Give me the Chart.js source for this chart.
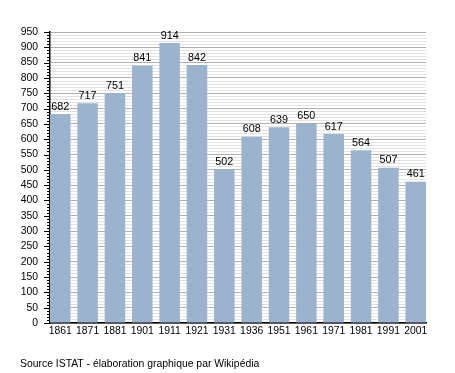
<!DOCTYPE html>
<html>
<head>
<meta charset="utf-8">
<script src="https://cdn.jsdelivr.net/npm/chart.js@4/dist/chart.umd.min.js"></script>
<style>
  html, body { margin: 0; padding: 0; background: #fff; }
  #wrap { position: relative; width: 455px; height: 373px; }
</style>
</head>
<body>
<div id="wrap"><canvas id="chart" width="455" height="373"></canvas></div>
<script>
// ── Data ─────────────────────────────────────────────────────────────── //
var years  = ['1861', '1871', '1881', '1901', '1911', '1921', '1931', '1936', '1951', '1961', '1971', '1981', '1991', '2001'];
var values = [682, 717, 751, 841, 914, 842, 502, 608, 639, 650, 617, 564, 507, 461];
var yMax = 950;
var sourceText = 'Source ISTAT - élaboration graphique par Wikipédia';

var FONT = '"Liberation Sans", Arial, sans-serif';
var BAR_COLOR = '#9cb3ce';

// value labels, y tick marks (long every 50, short every 10), source line
var labelsPlugin = {
  id: 'labels',
  afterDatasetsDraw: function (chart) {
    var ctx = chart.ctx;
    var meta = chart.getDatasetMeta(0);
    var ys = chart.scales.y;
    var left = chart.chartArea.left;
    ctx.save();
    ctx.strokeStyle = '#000';
    ctx.lineWidth = 1;
    ctx.beginPath();
    ys.ticks.forEach(function (t) {
      var py = Math.round(ys.getPixelForValue(t.value)) + 0.5;
      var len = t.value % 50 === 0 ? 6 : 3;
      ctx.moveTo(left - len, py);
      ctx.lineTo(left, py);
    });
    ctx.stroke();

    ctx.font = '10.8px ' + FONT;
    ctx.fillStyle = '#000';
    ctx.textAlign = 'center';
    ctx.textBaseline = 'bottom';
    meta.data.forEach(function (bar, i) {
      ctx.fillText(String(values[i]), bar.x, bar.y - 2);
    });
    ctx.font = '10.4px ' + FONT;
    ctx.textAlign = 'left';
    ctx.textBaseline = 'alphabetic';
    ctx.fillText(sourceText, 20, 367);
    ctx.restore();
  }
};

new Chart(document.getElementById('chart').getContext('2d'), {
  type: 'bar',
  data: {
    datasets: [{
      data: values.map(function (v, i) { return { x: i, y: v }; }),
      backgroundColor: BAR_COLOR,
      borderWidth: 0,
      barPercentage: 1,
      categoryPercentage: 0.75
    }]
  },
  options: {
    responsive: false,
    animation: false,
    layout: { padding: { top: 32, right: 29, bottom: 0, left: 0 } },
    plugins: { legend: { display: false }, tooltip: { enabled: false } },
    scales: {
      x: {
        type: 'linear',
        offset: false,
        min: -0.375,
        max: years.length - 1 + 0.375,
        afterBuildTicks: function (scale) {
          scale.ticks = years.map(function (_, i) { return { value: i }; });
        },
        afterFit: function (scale) { scale.height = 50; },
        grid: { display: false, drawTicks: false, offset: false },
        border: { color: '#000', width: 1.5 },
        ticks: {
          autoSkip: false,
          maxRotation: 0,
          padding: 2,
          color: '#000',
          font: { family: FONT, size: 10.4 },
          callback: function (v) { return years[v]; }
        }
      },
      y: {
        min: 0,
        max: yMax,
        afterFit: function (scale) { scale.width = 50; },
        border: { color: '#000', width: 1.5 },
        grid: {
          drawTicks: false,
          color: function (c) {
            if (!c.tick) return 'rgba(0,0,0,0)';
            return c.tick.value % 50 === 0 ? '#b0b0b0' : '#e2e2e2';
          },
          lineWidth: 1
        },
        ticks: {
          stepSize: 10,
          autoSkip: false,
          padding: 12,
          color: '#000',
          font: { family: FONT, size: 10.4 },
          callback: function (v) { return v % 50 === 0 ? v : ''; }
        }
      }
    }
  },
  plugins: [labelsPlugin]
});
</script>
</body>
</html>
